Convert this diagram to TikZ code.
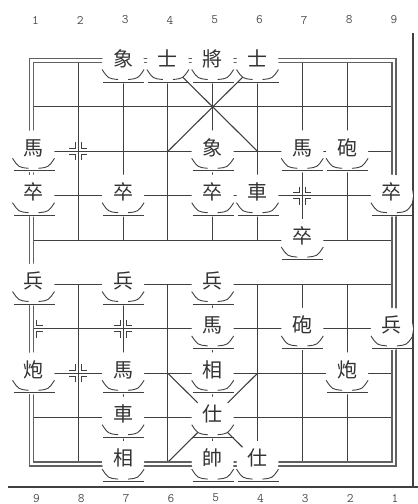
\documentclass[tikz,border=0pt]{standalone}
\usepackage{fontspec}
\newfontfamily\piecefont{Noto Sans CJK TC}
\usetikzlibrary{calc}
\definecolor{BoardLine}{gray}{0.25}
\definecolor{BorderGray}{gray}{0.38}
\definecolor{LabelGray}{gray}{0.3}

\begin{document}
\begin{tikzpicture}[
        x=44.8pt, y=-44.4pt,
        gridline/.style={BoardLine, line width=1.1pt},
        border/.style={BorderGray, line width=1.7pt},
        marker/.style={BoardLine, line width=1.1pt},
        piece/.style={circle, fill=white, inner sep=0pt, minimum size=42pt, font=\piecefont\fontsize{20}{20}\selectfont, text height=0.8em, text depth=0.04em, text=black!80},
        cushion/.style={BoardLine, line width=0.9pt},
        filenum/.style={font=\ttfamily\fontsize{13}{13}\selectfont, LabelGray},
        rule/.style={BoardLine, line width=1.2pt}
      ]
        \useasboundingbox (0.2522,-0.4077) rectangle (9.5826,10.9437);

        % Grid
        \foreach \r in {1,...,10}
          \draw [gridline] (1,\r) -- (9,\r);
        \foreach \c in {2,...,8}
          \draw [gridline] (\c,1) -- (\c,5) (\c,6) -- (\c,10);
        \draw [gridline] (4,1) -- (6,3) (6,1) -- (4,3);
        \draw [gridline] (4,8) -- (6,10) (6,8) -- (4,10);

        % Double border
        \draw [border] (1,1) rectangle (9,10);
        \draw [border] ([shift={(-4pt,4pt)}]1,1) rectangle ([shift={(4pt,-4pt)}]9,10);

        % Cannon and soldier marks
        \foreach \c/\r in {2/3,8/3,3/4,5/4,7/4,3/7,5/7,7/7,2/8,8/8}
          \foreach \sx in {-1,1}
            \foreach \sy in {-1,1}
              \draw [marker] ([shift={({\sx*3pt},{\sy*9pt})}]\c,\r) -- ++(0pt,{-\sy*6pt}) -- ++({\sx*6pt},0pt);
        \foreach \c/\r/\sx in {1/4/1,1/7/1,9/4/-1,9/7/-1}
          \foreach \sy in {-1,1}
            \draw [marker] ([shift={({\sx*3pt},{\sy*9pt})}]\c,\r) -- ++(0pt,{-\sy*6pt}) -- ++({\sx*6pt},0pt);

        % Outer rules
        \coordinate (ruleTop) at (9.471,0.336);
        \coordinate (ruleCorner) at (9.471,10.561);
        \coordinate (ruleLeft) at (0.431,10.561);
        \coordinate (ruleRight) at (9.5826,10.561);
        \draw [rule] (ruleTop) -- (ruleCorner);
        \draw [rule, line width=2.2pt] (ruleLeft) -- (ruleRight);

        % File numbers
        \foreach \c in {1,...,9}
          \node [filenum] (top\c) at ([xshift=2pt]\c,0.043) {\c};
        \foreach \k [count=\c] in {9,8,...,1}
          \node [filenum] (bot\c) at ([xshift=3pt]\c,10.81) {\k};

        % Pieces
        \node [piece] (p31) at (3,1) {象};
        \node [piece] (p41) at (4,1) {士};
        \node [piece] (p51) at (5,1) {將};
        \node [piece] (p61) at (6,1) {士};
        \node [piece] (p13) at (1,3) {馬};
        \node [piece] (p53) at (5,3) {象};
        \node [piece] (p73) at (7,3) {馬};
        \node [piece] (p83) at (8,3) {砲};
        \node [piece] (p14) at (1,4) {卒};
        \node [piece] (p34) at (3,4) {卒};
        \node [piece] (p54) at (5,4) {卒};
        \node [piece] (p64) at (6,4) {車};
        \node [piece] (p94) at (9,4) {卒};
        \node [piece] (p75) at (7,5) {卒};
        \node [piece] (p16) at (1,6) {兵};
        \node [piece] (p36) at (3,6) {兵};
        \node [piece] (p56) at (5,6) {兵};
        \node [piece] (p57) at (5,7) {馬};
        \node [piece] (p77) at (7,7) {砲};
        \node [piece] (p97) at (9,7) {兵};
        \node [piece] (p18) at (1,8) {炮};
        \node [piece] (p38) at (3,8) {馬};
        \node [piece] (p58) at (5,8) {相};
        \node [piece] (p88) at (8,8) {炮};
        \node [piece] (p39) at (3,9) {車};
        \node [piece] (p59) at (5,9) {仕};
        \node [piece] (p310) at (3,10) {相};
        \node [piece] (p510) at (5,10) {帥};
        \node [piece] (p610) at (6,10) {仕};

        % Piece bases
        \foreach \p in {p31,p41,p51,p61,p13,p53,p73,p83,p14,p34,p54,p64,p94,p75,p16,p36,p56,p57,p77,p97,p18,p38,p58,p88,p39,p59,p310,p510,p610} {
          \begin{scope}[shift={(\p.center)}]
            \draw [cushion] (-21pt,-7pt) .. controls (-15pt,-16pt) .. (-5pt,-17pt)
                            (5pt,-17pt) .. controls (15pt,-16pt) .. (21pt,-7pt);
            \draw [cushion] (-20pt,-19.5pt) -- (21pt,-19.5pt);
          \end{scope}
        }
      \end{tikzpicture}
\end{document}
